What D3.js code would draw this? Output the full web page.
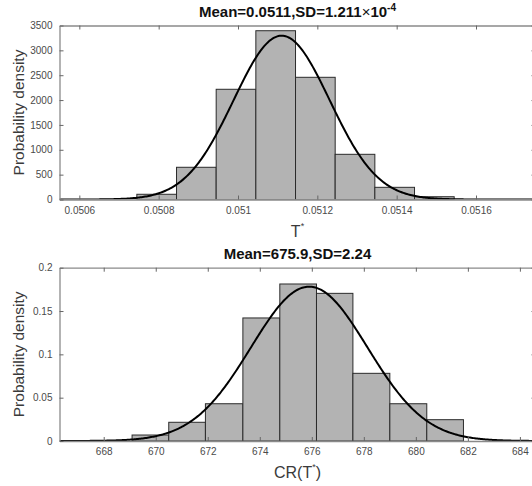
<!DOCTYPE html>
<html><head><meta charset="utf-8">
<script src="https://cdn.jsdelivr.net/npm/d3@7"></script>
<style>body{margin:0;background:#fff;}svg{display:block;font-family:"Liberation Sans",Arial,sans-serif;}</style>
</head><body>
<svg id="c" width="532" height="486"></svg>
<script>
// ---- Top panel data ----
const topEdges = [0.050745, 0.050845, 0.050945, 0.051045, 0.051145, 0.051245, 0.051345, 0.051445, 0.051545];
const topDensity = [105, 648, 2217, 3395, 2458, 909, 245, 56];
const topXTicks = [0.0506, 0.0508, 0.0510, 0.0512, 0.0514, 0.0516];
const topXTickLabels = ["0.0506", "0.0508", "0.051", "0.0512", "0.0514", "0.0516"];
const topYTicks = [0, 500, 1000, 1500, 2000, 2500, 3000, 3500];
const topFit = {mean: 0.05111, sd: 1.211e-4};
const topXDomain = [0.05055, 0.05175];
const topYDomain = [0, 3500];

// ---- Bottom panel data ----
const botEdges = [669.09, 670.5, 671.91, 673.35, 674.77, 676.18, 677.58, 679.0, 680.42, 681.83];
const botDensity = [0.0069, 0.0216, 0.043, 0.142, 0.1812, 0.1704, 0.0781, 0.043, 0.0246];
const botXTicks = [668, 670, 672, 674, 676, 678, 680, 682, 684];
const botYTicks = [0, 0.05, 0.1, 0.15, 0.2];
const botYTickLabels = ["0", "0.05", "0.1", "0.15", "0.2"];
const botFit = {mean: 675.9, sd: 2.24};
const botXDomain = [666.3, 684.6];
const botYDomain = [0, 0.2];

const svg = d3.select("#c");
const L = 59.5, R = 535.5;

function normalPdf(x, m, s){ return Math.exp(-0.5*((x-m)/s)**2)/(s*Math.sqrt(2*Math.PI)); }

function panel(o){
  const x = d3.scaleLinear().domain(o.xDomain).range([L, R]);
  const y = d3.scaleLinear().domain(o.yDomain).range([o.bottom, o.top]);
  const g = svg.append("g");
  const clipId = "clip"+o.id;
  svg.append("clipPath").attr("id", clipId).append("rect")
    .attr("x", L).attr("y", o.top-10).attr("width", R-L).attr("height", o.bottom-o.top+10);
  const plot = g.append("g").attr("clip-path", `url(#${clipId})`);
  // bars
  plot.selectAll("rect.bar").data(o.density).join("rect")
    .attr("x", (d,i)=>x(o.edges[i]))
    .attr("y", d=>y(d))
    .attr("width", (d,i)=>x(o.edges[i+1])-x(o.edges[i]))
    .attr("height", d=>y(0)-y(d))
    .attr("fill", "#b3b3b3").attr("stroke", "#2b2b2b").attr("stroke-width", 1);
  // fit curve
  const xs = d3.range(0, 401).map(i => o.xDomain[0] + (o.xDomain[1]-o.xDomain[0])*i/400);
  plot.append("path").datum(xs)
    .attr("d", d3.line().x(d=>x(d)).y(d=>y(normalPdf(d, o.fit.mean, o.fit.sd))))
    .attr("fill","none").attr("stroke","#000").attr("stroke-width",2);
  // axes
  const axCol = "#8a8a8a";
  const xb = g.append("g").attr("transform",`translate(0,${o.bottom})`)
    .call(d3.axisBottom(x).tickValues(o.xTicks).tickSizeInner(-4).tickSizeOuter(0).tickPadding(7)
      .tickFormat((d,i)=>o.xTickLabels ? o.xTickLabels[i] : d));
  const xt = g.append("g").attr("transform",`translate(0,${o.top})`)
    .call(d3.axisTop(x).tickValues(o.xTicks).tickSizeInner(-4).tickSizeOuter(0).tickFormat(""));
  const yl = g.append("g").attr("transform",`translate(${L},0)`)
    .call(d3.axisLeft(y).tickValues(o.yTicks).tickSizeInner(-4).tickSizeOuter(0).tickPadding(7)
      .tickFormat((d,i)=>o.yTickLabels ? o.yTickLabels[i] : d));
  const yr = g.append("g").attr("transform",`translate(${R},0)`)
    .call(d3.axisRight(y).tickValues(o.yTicks).tickSizeInner(-4).tickSizeOuter(0).tickFormat(""));
  [xb,xt,yl,yr].forEach(a=>{
    a.select(".domain").attr("stroke", axCol).attr("stroke-width",1.3);
    a.selectAll(".tick line").attr("stroke", "#666").attr("stroke-width",1);
    a.selectAll(".tick text").attr("fill","#4a4a4a").style("font-size","10px");
  });
  // title
  const t = g.append("text").attr("x", (L+R)/2).attr("y", o.top-8.8)
    .attr("text-anchor","middle").attr("font-weight","bold").style("font-size","15px").attr("fill","#111");
  o.title(t);
  // y label
  g.append("text").attr("transform",`translate(24,${(o.top+o.bottom)/2}) rotate(-90)`)
    .attr("text-anchor","middle").style("font-size","15.5px").attr("fill","#3a3a3a").text("Probability density");
  // x label
  const xlab = g.append("text").attr("x", (L+R)/2).attr("y", o.bottom+37)
    .attr("text-anchor","middle").style("font-size","16px").attr("fill","#3a3a3a");
  o.xlabel(xlab);
}

panel({id:1, top:25.5, bottom:199.5, xDomain:topXDomain, yDomain:topYDomain,
  edges:topEdges, density:topDensity, xTicks:topXTicks, xTickLabels:topXTickLabels, yTicks:topYTicks,
  fit:topFit,
  title: t => { t.append("tspan").text("Mean=0.0511,SD=1.211");
                t.append("tspan").attr("font-weight","normal").text("\u00d7");
                t.append("tspan").text("10");
                t.append("tspan").attr("dy",-6).style("font-size","10px").text("-4"); },
  xlabel: t => { t.append("tspan").text("T");
                 t.append("tspan").attr("dy",-8).style("font-size","9px").text("*"); }
});
panel({id:2, top:267.7, bottom:441, xDomain:botXDomain, yDomain:botYDomain,
  edges:botEdges, density:botDensity, xTicks:botXTicks, yTicks:botYTicks, yTickLabels:botYTickLabels,
  fit:botFit,
  title: t => { t.text("Mean=675.9,SD=2.24"); },
  xlabel: t => { t.append("tspan").text("CR(T");
                 t.append("tspan").attr("dy",-8).style("font-size","9px").text("*");
                 t.append("tspan").attr("dy",8).text(")"); }
});
</script>
</body></html>
